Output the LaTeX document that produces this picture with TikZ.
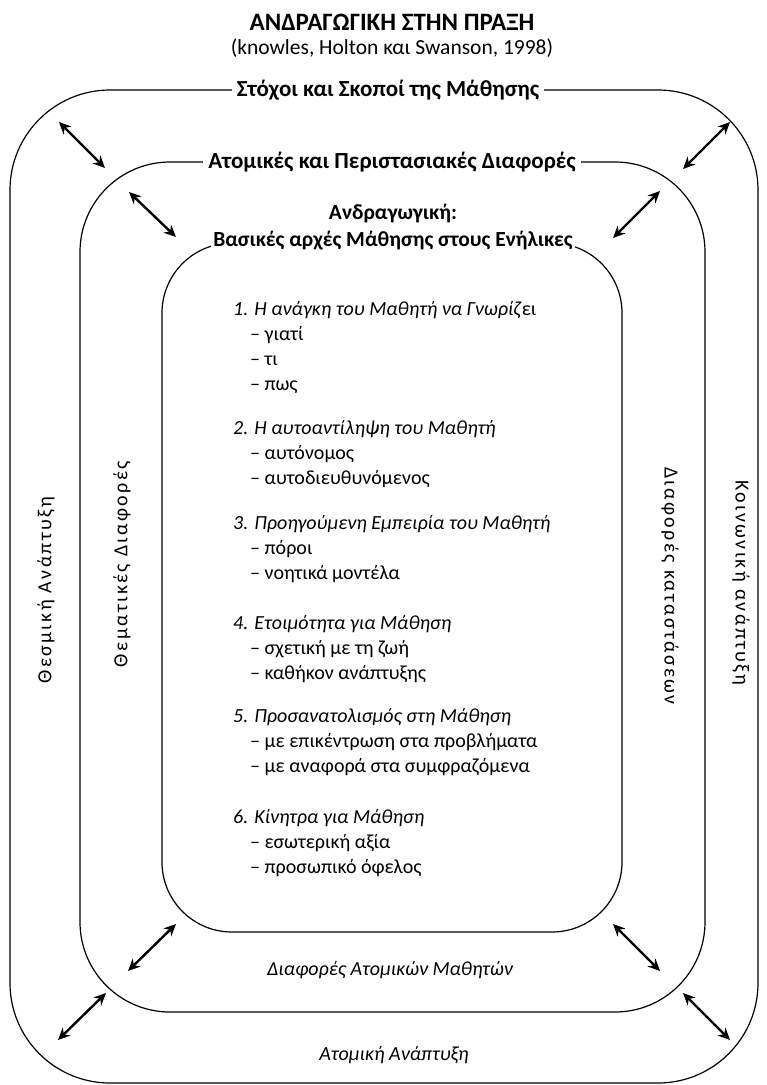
\documentclass[tikz,border=0pt]{standalone}
\usepackage{fontspec}
\setmainfont{Carlito}
\newfontfamily\spacedfont[LetterSpace=12]{Carlito}
\usetikzlibrary{arrows.meta}

\begin{document}
\begin{tikzpicture}[
  x=1pt,y=-1pt,
  font=\fontsize{20}{25}\selectfont,
  frame/.style={line width=1.2pt,rounded corners=#1},
  heading/.style={font=\fontsize{23}{28}\selectfont\bfseries,fill=white,inner sep=5pt},
  listgroup/.style={anchor=base west,align=left,inner sep=0pt},
  side/.style={font=\fontsize{20}{25}\selectfont\spacedfont},
  lower/.style={font=\fontsize{20}{25}\selectfont\itshape},
  dblarr/.style={{Stealth[length=12pt,width=11pt]}-{Stealth[length=12pt,width=11pt]},line width=2.4pt},
]
\useasboundingbox (0,0) rectangle (767,1085);
% the three frames
\draw[frame=100] (10,90) rectangle (758,1083);
\draw[frame=90] (80,162) rectangle (705,1012);
\draw[frame=70] (162,243) rectangle (622,932);
% titles
\node[font=\fontsize{25}{30}\selectfont\bfseries] (title) at (392,22) {ΑΝΔΡΑΓΩΓΙΚΗ ΣΤΗΝ ΠΡΑΞΗ};
\node[font=\fontsize{21.5}{26}\selectfont] (src) at (392,48) {(knowles, Holton και Swanson, 1998)};
\node[heading] (goals) at (388,90) {Στόχοι και Σκοποί της Μάθησης};
\node[heading] (diffs) at (392,162) {Ατομικές και Περιστασιακές Διαφορές};
\node[heading,fill=none,font=\fontsize{21.5}{26}\selectfont\bfseries] (andr) at (393,214) {Ανδραγωγική:};
\node[heading,inner sep=2pt,font=\fontsize{21.5}{26}\selectfont\bfseries] (basics) at (393,241) {Βασικές αρχές Μάθησης στους Ενήλικες};
% principles (anchored at the baseline of the last line)
\node[listgroup] (p1) at (233,390) {\textit{1. Η ανάγκη του Μαθητή να Γνωρίζ}ει\\\hspace*{17pt}– γιατί\\\hspace*{17pt}– τι\\\hspace*{17pt}– πως};
\node[listgroup] (p2) at (233,484) {\textit{2. Η αυτοαντίληψη του Μαθητή}\\\hspace*{17pt}– αυτόνομος\\\hspace*{17pt}– αυτοδιευθυνόμενος};
\node[listgroup] (p3) at (233,579) {\textit{3. Προηγούμενη Εμπειρία του Μαθητή}\\\hspace*{17pt}– πόροι\\\hspace*{17pt}– νοητικά μοντέλα};
\node[listgroup] (p4) at (233,679) {\textit{4. Ετοιμότητα για Μάθηση}\\\hspace*{17pt}– σχετική με τη ζωή\\\hspace*{17pt}– καθήκον ανάπτυξης};
\node[listgroup] (p5) at (233,772) {\textit{5. Προσανατολισμός στη Μάθηση}\\\hspace*{17pt}– με επικέντρωση στα προβλήματα\\\hspace*{17pt}– με αναφορά στα συμφραζόμενα};
\node[listgroup] (p6) at (233,873) {\textit{6. Κίνητρα για Μάθηση}\\\hspace*{17pt}– εσωτερική αξία\\\hspace*{17pt}– προσωπικό όφελος};
% side labels
\node[side,rotate=90] (inst) at (46,590) {Θεσμική Ανάπτυξη};
\node[side,rotate=90] (theme) at (122,564) {Θεματικές Διαφορές};
\node[side,rotate=-90] (situ) at (670,586) {Διαφορές καταστάσεων};
\node[side,rotate=-90] (social) at (741,583) {Κοινωνική ανάπτυξη};
% bottom labels
\node[lower] (learners) at (390,970) {Διαφορές Ατομικών Μαθητών};
\node[lower] (personal) at (394,1055) {Ατομική Ανάπτυξη};
% arrows between the frames
\coordinate (otl) at (59,122);   \coordinate (mtl) at (105,168);
\coordinate (mtl2) at (129,192); \coordinate (itl) at (176,237);
\coordinate (otr) at (730,122);  \coordinate (mtr) at (683,169);
\coordinate (mtr2) at (660,191); \coordinate (itr) at (613,238);
\coordinate (ibl) at (176,924);  \coordinate (mbl) at (128,971);
\coordinate (mbl2) at (106,993); \coordinate (obl) at (58,1040);
\coordinate (ibr) at (613,924);  \coordinate (mbr) at (660,971);
\coordinate (mbr2) at (683,993); \coordinate (obr) at (730,1040);
\draw[dblarr] (otl) -- (mtl);
\draw[dblarr] (mtl2) -- (itl);
\draw[dblarr] (otr) -- (mtr);
\draw[dblarr] (mtr2) -- (itr);
\draw[dblarr] (ibl) -- (mbl);
\draw[dblarr] (mbl2) -- (obl);
\draw[dblarr] (ibr) -- (mbr);
\draw[dblarr] (mbr2) -- (obr);
\end{tikzpicture}
\end{document}
